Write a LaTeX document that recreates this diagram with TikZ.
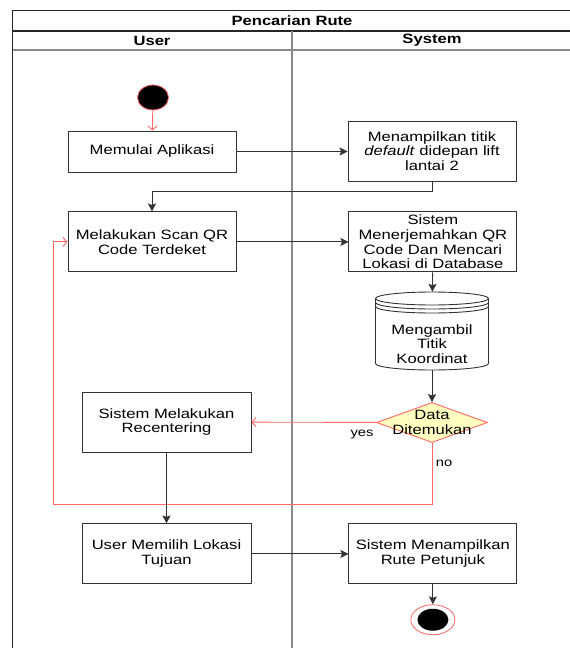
\documentclass[tikz,border=0pt]{standalone}
\usepackage{fontspec}
\setmainfont{Liberation Sans}[FakeStretch=1.23]
\usetikzlibrary{shapes.geometric}
\usetikzlibrary{arrows.meta}
\usetikzlibrary{positioning}
\definecolor{lane-gray}{HTML}{8A8A8A}
\definecolor{flow-red}{HTML}{FF6666}
\definecolor{guard-yellow}{HTML}{FFFFC0}
\colorlet{box}{black!80}

\begin{document}
\begin{tikzpicture}[
  x=1pt, y=-1pt,
  font=\fontsize{13.5}{14.8}\selectfont,
  frame/.style={draw=black!85, line width=1.1pt},
  lane/.style={draw=lane-gray, line width=1.3pt},
  head/.style={font=\fontsize{13.5}{14.8}\selectfont\bfseries},
  action/.style={draw=box, line width=.9pt, minimum width=168pt, align=center, inner sep=0pt},
  store/.style={draw=box, line width=.9pt},
  decision/.style={diamond, draw=flow-red, fill=guard-yellow, line width=.9pt, minimum width=111pt, minimum height=40pt, inner sep=0pt},
  flow/.style={box, line width=.9pt, -{Stealth[length=8pt, width=8pt, inset=1.5pt]}},
  redflow/.style={flow-red, line width=.9pt, -{Straight Barb[length=4pt, width=9pt]}},
  guard/.style={font=\fontsize{12}{14}\selectfont}
]
\useasboundingbox (0,0) rectangle (570,648);

% Swimlanes
\draw[frame] (12.5,660) -- (12.5,10.5) -- (590,10.5);
\draw[frame] (12.5,31) -- (590,31);
\draw[lane] (12.5,50) -- (590,50);
\draw[lane] (292,31) -- (292,660);
\node[head] (title) at (292,20.5) {Pencarian Rute};
\node[head] (user) at (152,40.5) {User};
\node[head] (system) at (432,40.5) {System};

% User lane
\node[ellipse, fill=black, draw=flow-red, line width=.8pt, minimum width=31pt, minimum height=25pt, inner sep=0pt] (start) at (153,97.5) {};
\node[action, minimum height=41pt] (memulai) at (152,151.5) {Memulai Aplikasi};
\node[action, minimum height=60pt, below=39pt of memulai] (scan) {Melakukan Scan QR\\Code Terdeket};
\node[action, minimum width=169pt, minimum height=60pt] (recenter) at (166.5,422) {Sistem Melakukan\\Recentering};
\node[action, minimum width=169pt, minimum height=60pt, below=71pt of recenter] (pilih) {User Memilih Lokasi\\Tujuan};

% System lane
\node[action, minimum height=60pt] (tampil) at (432,151) {Menampilkan titik\\\textit{default} didepan lift\\lantai 2};
\node[action, minimum height=60pt, right=112pt of scan] (terjemah) {Sistem\\Menerjemahkan QR\\Code Dan Mencari\\Lokasi di Database};
\node[minimum width=113pt, minimum height=78pt, inner sep=0pt] (ambil) at (432,331) {};
\draw[store, fill=white] (375.5,298.5) -- (375.5,363.5) arc[start angle=180, end angle=360, x radius=56.5pt, y radius=6.5pt] -- (488.5,298.5);
\draw[store, fill=white] (432,298.5) ellipse [x radius=56.5pt, y radius=6.5pt];
\draw[store] (375.5,302.5) arc[start angle=180, end angle=360, x radius=56.5pt, y radius=6.5pt];
\draw[store] (375.5,306.5) arc[start angle=180, end angle=360, x radius=56.5pt, y radius=6.5pt];
\node[align=center] (ambiltxt) at (432,344) {Mengambil\\Titik\\Koordinat};
\node[decision] (cek) at (432,422.5) {};
\node[align=center] (cektxt) at (cek) {Data\\Ditemukan};
\node[action, minimum height=60pt, right=97pt of pilih] (rute) {Sistem Menampilkan\\Rute Petunjuk};
\node[ellipse, draw=flow-red, fill=white, line width=.8pt, minimum width=44pt, minimum height=30pt, inner sep=0pt,
  path picture={\fill[black] (path picture bounding box.center) ellipse [x radius=15.5pt, y radius=11pt];}, below=20pt of rute] (stop) {};

% Edges
\draw[redflow] (start) -- (memulai);
\draw[flow] (memulai.east) -- (memulai.east -| tampil.west);
\draw[flow] (tampil.south) -- ++(0,9.5) -| (scan.north);
\draw[flow] (scan) -- (terjemah);
\draw[flow] (terjemah) -- (ambil);
\draw[flow] (ambil) -- (cek);
\draw[redflow] (cek) -- (recenter);
\draw[redflow] (cek.south) -- ++(0,61) -| ([xshift=-14pt]scan.west) -- (scan.west);
\draw[flow] (recenter) -- (pilih);
\draw[flow] (pilih) -- (rute);
\draw[flow] (rute) -- (stop);
\node[guard] (yeslbl) at (362,435) {yes};
\node[guard] (nolbl) at (444,463) {no};
\end{tikzpicture}
\end{document}
